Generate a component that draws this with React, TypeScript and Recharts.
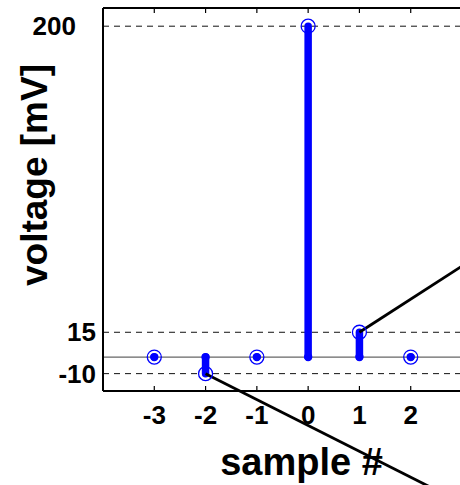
import React from 'react'
import { CartesianGrid, ComposedChart, Label, ReferenceLine, Scatter, XAxis, YAxis } from 'recharts'

const samples = [-3, -2, -1, 0, 1, 2]
const voltages = [0, -10, 0, 200, 15, 0]
const yTicks = [-10, 15, 200]
// annotation pointers, in data units (start at a sample, run off the axes)
const pointerStart = [[1, 15], [-2, -10]]
const pointerEnd = [[3.15, 58], [2.6, -82]]

const FONT = '"Liberation Sans", Arial, sans-serif'
const BLUE = '#0000ff'

const points = samples.map((s, i) => ({ x: s, y: voltages[i] }))
const bases = samples.map((s) => ({ x: s, y: 0 }))

const Ring = (p: any) => <circle cx={p.cx} cy={p.cy} r={7} fill='none' stroke={BLUE} strokeWidth={1.3} />
const Dot = (p: any) => <circle cx={p.cx} cy={p.cy} r={4.2} fill={BLUE} />

const XTick = (p: any) => (
    <g>
        <line x1={p.x} x2={p.x} y1={p.y} y2={p.y - 5} stroke='#000' strokeWidth={1.2} />
        <text x={p.x} y={p.y + 24} textAnchor='middle' dominantBaseline='central'
            fontFamily={FONT} fontWeight='bold' fontSize={26} fill='#000'>{p.payload.value}</text>
    </g>
)

const TopTick = (p: any) => (
    <line x1={p.x} x2={p.x} y1={p.y} y2={p.y + 5} stroke='#000' strokeWidth={1.2} />
)

const YTick = (p: any) => {
    const shift = p.payload.value === 200 ? -20 : 0
    return (
        <text x={p.x + shift} y={p.y} textAnchor='end' dominantBaseline='central'
            fontFamily={FONT} fontWeight='bold' fontSize={26} fill='#000'>{p.payload.value}</text>
    )
}

const YTitle = (p: any) => {
    const cx = p.viewBox.x + 34
    const cy = p.viewBox.y + 167
    return (
        <text x={cx} y={cy} transform={`rotate(-90, ${cx}, ${cy})`} textAnchor='middle' dominantBaseline='central'
            fontFamily={FONT} fontWeight='bold' fontSize={37} fill='#000'>voltage [mV]</text>
    )
}

const App: React.FC = () => {
    return (
        <div style={{ position: 'absolute', left: 0, top: 0 }}>
            <ComposedChart width={460} height={485} margin={{ top: 7, right: -2, bottom: 0, left: 0 }}>
                <CartesianGrid vertical={false} horizontalPoints={undefined} stroke='#111' strokeDasharray='6 5' />
                <XAxis dataKey='x' type='number' domain={[-4, 3]} ticks={samples} height={94}
                    axisLine={{ stroke: '#000', strokeWidth: 2 }} tickLine={false} tickSize={0} tickMargin={0}
                    tick={<XTick />} allowDataOverflow>
                    <Label value='sample #' position='insideBottom' offset={10} dx={19}
                        fontFamily={FONT} fontWeight='bold' fontSize={38} fill='#000' />
                </XAxis>
                <XAxis xAxisId='top' dataKey='x' type='number' orientation='top' domain={[-4, 3]} ticks={samples}
                    height={1} axisLine={{ stroke: '#000', strokeWidth: 2 }} tickLine={false} tickSize={0}
                    tickMargin={0} tick={<TopTick />} allowDataOverflow />
                <YAxis dataKey='y' type='number' domain={[-20.5, 211]} ticks={yTicks} width={103}
                    axisLine={{ stroke: '#000', strokeWidth: 2 }} tickLine={false} tickSize={0} tickMargin={7}
                    tick={<YTick />} allowDataOverflow>
                    <Label content={<YTitle />} />
                </YAxis>
                <ReferenceLine y={0} stroke='#666' strokeWidth={1.4} />
                <ReferenceLine y={211} stroke='#000' strokeWidth={2} />
                {points.map((p) => (
                    <ReferenceLine key={'stem' + p.x} segment={[{ x: p.x, y: 0 }, { x: p.x, y: p.y }]}
                        stroke={BLUE} strokeWidth={7.5} strokeLinecap='round' />
                ))}
                <Scatter data={bases} shape={<Dot />} isAnimationActive={false} />
                <Scatter data={points} shape={<Ring />} isAnimationActive={false} />
                {pointerStart.map((s, i) => (
                    <ReferenceLine key={'ptr' + i} ifOverflow='visible'
                        segment={[{ x: s[0], y: s[1] }, { x: pointerEnd[i][0], y: pointerEnd[i][1] }]}
                        stroke='#000' strokeWidth={2.8} />
                ))}
            </ComposedChart>
        </div>
    )
}

export default App
